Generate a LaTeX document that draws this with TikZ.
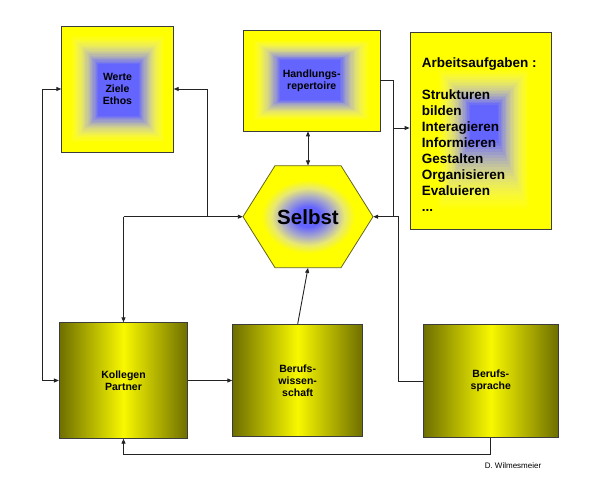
\documentclass[tikz,border=0pt]{standalone}
\usepackage{fontspec}
\setmainfont{Liberation Sans}
\usetikzlibrary{arrows.meta,calc}
\definecolor{yellowc}{RGB}{255,255,0}
\definecolor{bluec}{RGB}{100,100,255}
\definecolor{midc}{RGB}{172,172,200}
\definecolor{palec}{RGB}{232,232,115}
\definecolor{olivec}{RGB}{110,110,0}
\definecolor{brightc}{RGB}{248,248,0}
\definecolor{linec}{RGB}{35,35,35}
\definecolor{boxline}{RGB}{60,60,60}
\definecolor{hexline}{RGB}{100,100,30}
\pgfdeclareradialshading{selbstshade}{\pgfpoint{0bp}{0bp}}{color(0bp)=(bluec); color(5bp)=(bluec); color(10bp)=(midc); color(14bp)=(palec); color(18bp)=(yellowc); color(50bp)=(yellowc)}
% nested-rectangle gradient: start rect (yellow) #1..#4 -> inner rect (blue) #5..#8
\newcommand\rectgrad[8]{%
  \foreach \k in {0,...,24}{%
    \pgfmathsetmacro\mygt{\k/24}%
    \pgfmathtruncatemacro\myr{255-155*\mygt*\mygt}%
    \pgfmathtruncatemacro\myb{255*\mygt}%
    \definecolor{gradc}{RGB}{\myr,\myr,\myb}%
    \fill[fill=gradc] ({#1+(#5-#1)*\mygt},{#2+(#6-#2)*\mygt}) rectangle ({#3+(#7-#3)*\mygt},{#4+(#8-#4)*\mygt});
  }}
\begin{document}
\begin{tikzpicture}[x=1pt,y=-1pt,
  >={Triangle[length=5pt,width=4pt]},
  conn/.style={draw=linec, line width=0.9pt},
  topbox/.style={draw=boxline, line width=0.8pt, inner sep=0pt, align=center,
    font=\bfseries\fontsize{10.5}{12.3}\selectfont},
  botbox/.style={draw=boxline, line width=0.8pt, inner sep=0pt, align=center,
    left color=olivec, right color=olivec, middle color=brightc,
    font=\bfseries\fontsize{10.5}{12}\selectfont}]
\useasboundingbox[fill=white] (0,0) rectangle (600,481);

% gradient backgrounds of the upper boxes
\fill[yellowc] (61.7,26) rectangle (173.3,152);
\rectgrad{70}{35}{165}{143}{98}{64}{139}{116}
\fill[yellowc] (243.3,30) rectangle (380,131);
\rectgrad{253}{40}{370}{121}{280}{60}{340}{100}
\fill[yellowc] (410,32.3) rectangle (551,229);
\rectgrad{437}{68}{530}{212}{470}{105}{498}{140}

% hexagon
\coordinate (hc) at (308,216.7);
\path[draw=hexline, line width=0.8pt, shading=selbstshade]
  ($(hc)+(-65,0)$) -- ($(hc)+(-33,-51)$) -- ($(hc)+(33,-51)$) -- ($(hc)+(65,0)$)
  -- ($(hc)+(33,51)$) -- ($(hc)+(-33,51)$) -- cycle;

% nodes
\node[topbox, minimum width=111.6pt, minimum height=126pt] (werte) at (117.5,89) {Werte\\Ziele\\Ethos};
\node[topbox, minimum width=136.7pt, minimum height=101pt] (hand) at (311.7,80.5) {Handlungs-\\repertoire};
\node[draw=boxline, line width=0.8pt, inner sep=0pt, minimum width=141pt, minimum height=196.7pt] (arb) at (480.5,130.7) {};
\node[anchor=north west, inner sep=0pt, align=left, font=\bfseries\fontsize{13.5}{16}\selectfont] (arbtext) at (421.7,58)
  {Arbeitsaufgaben :\\[16pt]Strukturen\\bilden\\Interagieren\\Informieren\\Gestalten\\Organisieren\\Evaluieren\\...};
\node[inner sep=0pt, minimum width=130pt, minimum height=102pt, font=\bfseries\fontsize{20.5}{24}\selectfont] (selbst) at (hc) {Selbst};
\node[botbox, minimum width=128.4pt, minimum height=115.6pt] (koll) at (123.5,380.5) {Kollegen\\Partner};
\node[botbox, minimum width=130pt, minimum height=112.4pt] (wiss) at (297.7,380.5) {Berufs-\\wissen-\\schaft};
\node[botbox, minimum width=135pt, minimum height=113.4pt] (spr) at (490.8,381) {Berufs-\\sprache};
\node[inner sep=0pt, font=\fontsize{8}{9}\selectfont] (credit) at (513,466) {D. Wilmesmeier};

% connectors
\draw[conn,<->] (werte.west) -- ++(-19,0) |- (koll.west);
\coordinate (j1) at (207,216.7);
\coordinate (j2) at (123.5,216.7);
\draw[conn,<-] (werte.east) -| (j1);
\draw[conn,->] (j2) -- (selbst.west);
\draw[conn,->] (j2) -- (koll.north);
\draw[conn,<->] (selbst.north |- hand.south) -- (selbst.north);
\coordinate (j3) at (393,128);
\draw[conn,->] (hand.east) -| (j3) -- (j3 -| arb.west);
\coordinate (j4) at (398,216.7);
\draw[conn] (j3) -- (j3 |- j4) -- (j4);
\draw[conn,->] (spr.west) -| (j4) -- (selbst.east);
\draw[conn,->] (koll.east) -- (wiss.west);
\draw[conn,->] (wiss.north) -- (selbst.south);
\draw[conn,->] (spr.south) -- ++(0,16.6) -| (koll.south);
\end{tikzpicture}
\end{document}
